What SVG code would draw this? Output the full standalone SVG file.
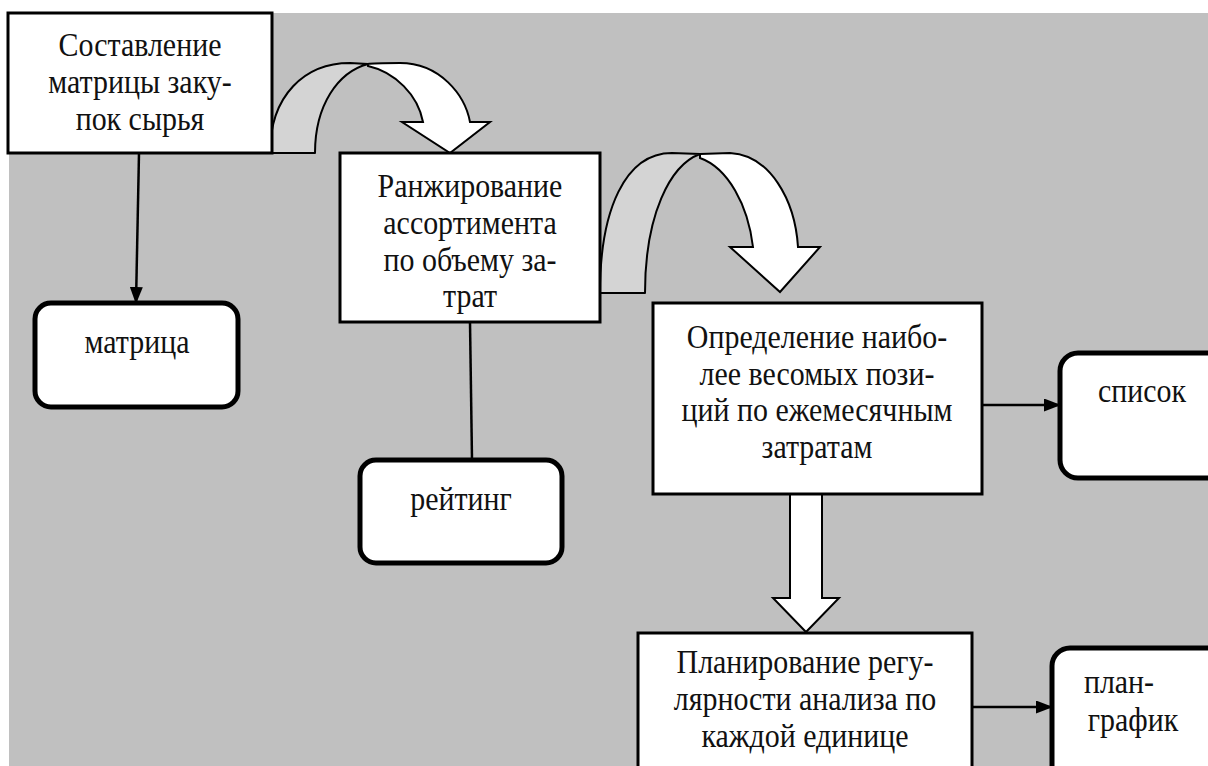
<svg xmlns="http://www.w3.org/2000/svg" width="1208" height="766" viewBox="0 0 1208 766">
<style>
.bx{fill:#fff;stroke:#000;stroke-width:3}
.rb{fill:#fff;stroke:#000;stroke-width:5}
text{font-size:34px;fill:#111;text-anchor:middle}
.ln{stroke:#000;stroke-width:2.5;fill:none}
.band{fill:#d4d4d4;stroke:#000;stroke-width:2;stroke-linejoin:round}
.fr{fill:#fff;stroke:#000;stroke-width:2;stroke-linejoin:miter}
</style>
<defs>
<marker id="ah" markerUnits="userSpaceOnUse" markerWidth="17" markerHeight="13" refX="16" refY="6.5" orient="auto">
<path d="M0,0 L17,6.5 L0,13 Z" fill="#000"/>
</marker>
</defs>
<rect x="0" y="0" width="1208" height="766" fill="#fff"/>
<rect x="9" y="13" width="1199" height="753" fill="#c0c0c0"/>

<g id="connectors">
<line class="ln" x1="139" y1="153" x2="136" y2="303" marker-end="url(#ah)"/>
<line class="ln" x1="470" y1="322" x2="472" y2="460"/>
<line class="ln" x1="982" y1="405" x2="1060" y2="405" marker-end="url(#ah)"/>
<line class="ln" x1="972" y1="707" x2="1052" y2="707" marker-end="url(#ah)"/>
<g id="curved-arrow-1">
<path class="band" d="M270,153 C270,95 305,63 350,63 L368,64 C338,72 315,105 315,153 Z"/>
<path class="fr" d="M368,64 C372,63 385,63 400,63 C440,63 465,95 470,122 L490,122 L450,153 L402,122 L423,122 C418,95 395,72 368,66 Z"/>
</g>
<g id="curved-arrow-2">
<path class="band" d="M600,293 C600,210 625,153 672,153 L700,154 C670,165 645,215 645,293 Z"/>
<path class="fr" d="M700,154 L730,153 C770,155 795,200 798,247 L820,247 L780,292 L730,247 L753,247 C748,205 728,168 700,158 Z"/>
</g>
<polygon id="block-arrow" class="fr" points="790,494 822,494 822,598 839,598 806,632 773,598 790,598"/>
</g>

<g font-family="'Liberation Serif', 'DejaVu Serif', 'Times New Roman', serif">
<g id="n1">
<rect class="bx" x="8" y="13" width="264" height="140"/>
<text transform="matrix(0.88 0 0 1 140 56)">Составление</text>
<text transform="matrix(0.88 0 0 1 140 93)">матрицы заку-</text>
<text transform="matrix(0.88 0 0 1 140 130)">пок сырья</text>
</g>
<g id="n2">
<rect class="bx" x="340" y="153" width="260" height="169"/>
<text transform="matrix(0.88 0 0 1 470 197)">Ранжирование</text>
<text transform="matrix(0.88 0 0 1 470 234)">ассортимента</text>
<text transform="matrix(0.88 0 0 1 470 271)">по объему за-</text>
<text transform="matrix(0.88 0 0 1 470 307)">трат</text>
</g>
<g id="n3">
<rect class="bx" x="653" y="303" width="329" height="191"/>
<text transform="matrix(0.88 0 0 1 817 348)">Определение наибо-</text>
<text transform="matrix(0.88 0 0 1 817 385)">лее весомых пози-</text>
<text transform="matrix(0.88 0 0 1 817 421)">ций по ежемесячным</text>
<text transform="matrix(0.88 0 0 1 817 458)">затратам</text>
</g>
<g id="n4">
<rect class="bx" x="638" y="633" width="334" height="150"/>
<text transform="matrix(0.88 0 0 1 805 673)">Планирование регу-</text>
<text transform="matrix(0.88 0 0 1 805 710)">лярности анализа по</text>
<text transform="matrix(0.88 0 0 1 805 747)">каждой единице</text>
</g>
<g id="r1">
<rect class="rb" x="35" y="303" width="203" height="104" rx="16"/>
<text transform="matrix(0.88 0 0 1 137 353)">матрица</text>
</g>
<g id="r2">
<rect class="rb" x="360" y="460" width="202" height="103" rx="16"/>
<text transform="matrix(0.88 0 0 1 461 510)">рейтинг</text>
</g>
<g id="r3">
<rect class="rb" x="1060" y="353" width="180" height="125" rx="18"/>
<text transform="matrix(0.88 0 0 1 1142 402)">список</text>
</g>
<g id="r4">
<rect class="rb" x="1052" y="648" width="180" height="140" rx="18"/>
<text transform="matrix(0.88 0 0 1 1119 693)">план-</text>
<text transform="matrix(0.88 0 0 1 1133 731)">график</text>
</g>
</g>
</svg>
